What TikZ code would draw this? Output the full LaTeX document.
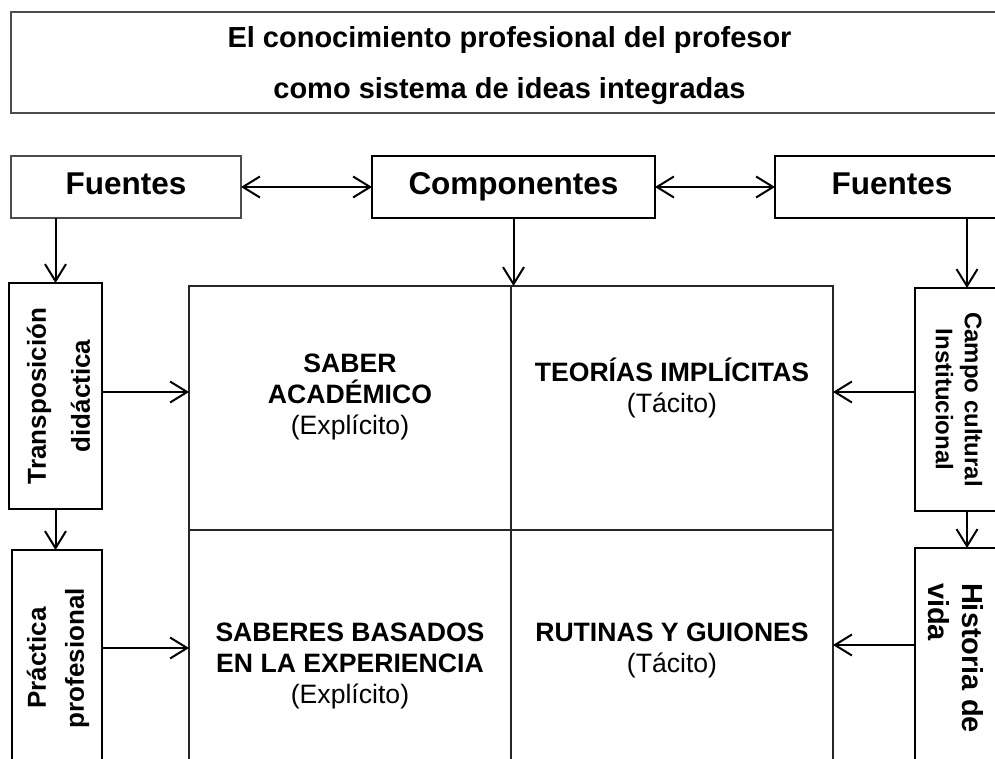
\documentclass[tikz,border=0pt]{standalone}
\usepackage{fontspec}
\setmainfont{Liberation Sans}
\usetikzlibrary{arrows.meta}

\begin{document}
\begin{tikzpicture}[
        x=1pt, y=-1pt,                     % coordenadas en pixeles
        every node/.style={inner sep=0pt, outer sep=0pt},
        >={Straight Barb[length=17pt,width=21pt]},
        kbox/.style={draw, line width=2.4pt, rectangle},
        thinbox/.style={draw=black!70, line width=1.5pt, rectangle},
        celda/.style={draw=black!85, line width=1.4pt, rectangle,
                      minimum width=322pt, minimum height=244pt},
        head/.style={font=\fontsize{31.5}{36}\selectfont\bfseries, text height=22.2pt, text depth=6.5pt},
        celltxt/.style={align=center, font=\fontsize{26.6}{31}\selectfont\bfseries},
        arrow/.style={->, line width=2pt}
    ]
    \useasboundingbox (0,0) rectangle (995,759);
    \clip (0,0) rectangle (995,759);

    % titulo
    \node[thinbox, line width=2pt, minimum width=997pt, minimum height=101pt] (titulo) at (509.5,62.5) {};
    \node[align=center, font=\fontsize{29}{51}\selectfont\bfseries] (tituloTxt) at (509.5,66)
        {El conocimiento profesional del profesor\\como sistema de ideas integradas};

    % fuentes y componentes
    \node[thinbox, minimum width=230pt, minimum height=62pt, head] (fuenteIzq) at (126,187) {Fuentes};
    \node[kbox, minimum width=283pt, minimum height=62pt, head] (comp) at (513.5,187) {Componentes};
    \node[kbox, minimum width=234pt, minimum height=62pt, head] (fuenteDer) at (892,187) {Fuentes};

    % cuadro central
    \node[celda] (acad) at (350,408) {};
    \node[celda] (teor) at (672,408) {};
    \node[celda, minimum height=260pt] (saberes) at (350,660) {};
    \node[celda, minimum height=260pt] (rutinas) at (672,660) {};
    \node[celltxt] (acadTxt) at (350,397.3) {SABER\\ACADÉMICO\\{\mdseries (Explícito)}};
    \node[celltxt] (teorTxt) at (672,387.7) {TEORÍAS IMPLÍCITAS\\{\mdseries (Tácito)}};
    \node[celltxt] (saberesTxt) at (350,665.5) {SABERES BASADOS\\EN LA EXPERIENCIA\\{\mdseries (Explícito)}};
    \node[celltxt] (rutinasTxt) at (672,650) {RUTINAS Y GUIONES\\{\mdseries (Tácito)}};

    % lado izquierdo
    \node[kbox, minimum width=93pt, minimum height=226pt] (transp) at (55.5,396) {};
    \node[rotate=90, align=center, font=\fontsize{26}{44}\selectfont\bfseries] (transpTxt) at (58.5,396)
        {Transposición\\didáctica};
    \node[kbox, minimum width=90pt, minimum height=216pt] (practica) at (57,658) {};
    \node[rotate=90, align=center, font=\fontsize{26}{38}\selectfont\bfseries] (practicaTxt) at (58,658)
        {Práctica\\profesional};

    % lado derecho
    \node[kbox, minimum width=88pt, minimum height=223pt] (campo) at (959,399.5) {};
    \node[rotate=-90, align=center, font=\fontsize{24}{29}\selectfont\bfseries] (campoTxt) at (959,399.5)
        {Campo cultural\\Institucional};
    \node[kbox, minimum width=88pt, minimum height=222pt] (historia) at (959,659) {};
    \node[rotate=-90, align=left, anchor=north west, font=\fontsize{29}{34}\selectfont\bfseries] (historiaTxt)
        at (983,583) {Historia de\\vida};

    % puntos de llegada
    \coordinate (campoIn) at ([xshift=8pt]campo.north);
    \coordinate (pTransp) at ([yshift=4pt]transp.east);
    \coordinate (pPract) at ([yshift=10pt]practica.east);
    \coordinate (pCampo) at ([yshift=7.5pt]campo.west);
    \coordinate (pHist) at ([yshift=14pt]historia.west);

    % flechas
    \draw[<->, line width=2pt] (fuenteIzq) -- (comp);
    \draw[<->, line width=2pt] (comp) -- (fuenteDer);
    \draw[arrow] (fuenteIzq.south -| transp.north) -- (transp.north);
    \draw[arrow] (comp.south) -- (comp.south |- acad.north);
    \draw[arrow] (campoIn |- fuenteDer.south) -- (campoIn);
    \draw[arrow] (transp.south) -- (transp.south |- practica.north);
    \draw[arrow] ([xshift=8pt]campo.south) -- ([xshift=8pt]historia.north);
    \draw[arrow] (pTransp) -- (pTransp -| acad.west);
    \draw[arrow] (pPract) -- (pPract -| saberes.west);
    \draw[arrow] (pCampo) -- (pCampo -| teor.east);
    \draw[arrow] (pHist) -- (pHist -| rutinas.east);
\end{tikzpicture}
\end{document}
